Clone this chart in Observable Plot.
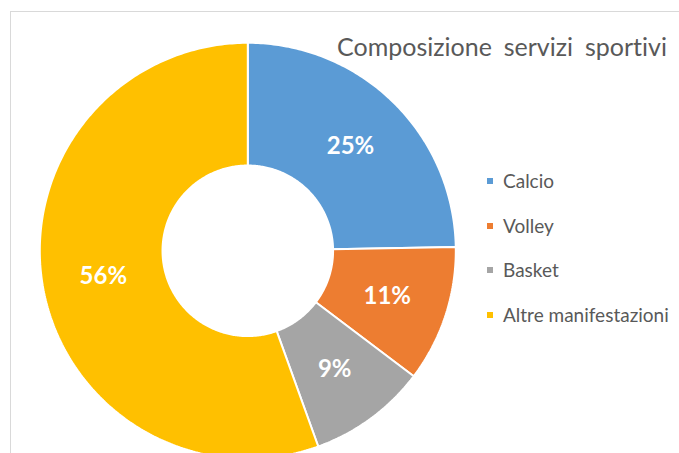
<!DOCTYPE html>
<html><head><meta charset="utf-8">
<script src="https://cdn.jsdelivr.net/npm/d3@7"></script>
<script src="https://cdn.jsdelivr.net/npm/@observablehq/plot@0.6"></script>
<style>
body{margin:0;background:#fff;}
#wrap{position:relative;width:679px;height:453px;overflow:hidden;font-family:Lato,"Open Sans",sans-serif;background:#fff;font-variant-ligatures:none;}
#border{position:absolute;left:10px;top:11px;width:800px;height:600px;border-left:1.5px solid #D9D9D9;border-top:1.5px solid #D9D9D9;}
#chart{position:absolute;left:0;top:0;}
#title{position:absolute;left:337px;top:34px;font-size:25px;color:#595959;white-space:nowrap;word-spacing:5.5px;line-height:1;}
.legtext{position:absolute;left:503px;font-size:19px;color:#595959;white-space:nowrap;line-height:1;}
.sw{position:absolute;left:487px;width:6px;height:6px;}
</style></head><body><div id="wrap"><div id="border"></div><div id="chart"></div></div>
<script>
const categories = ["Calcio", "Volley", "Basket", "Altre manifestazioni"];
const shares = [24.7, 10.6, 9.2, 55.5];
const labels = ["25%", "11%", "9%", "56%"];
const colors = ["#5B9BD5", "#ED7D31", "#A5A5A5", "#FFC000"];
const title = "Composizione servizi sportivi";

const cx = 247.3, cy = 250.3, R = 208, innerRatio = 0.41;

const pie = d3.pie().sort(null)(shares);
const rows = [];
const labelRows = [];
pie.forEach((p, i) => {
  const cat = categories[i];
  const span = p.endAngle - p.startAngle;
  const n = Math.max(2, Math.ceil(span * 80));
  const pts = [];
  for (let k = 0; k <= n; k++) {
    const a = p.startAngle + span * k / n;
    pts.push({cat, x: Math.sin(a), y: Math.cos(a)});
  }
  for (let k = n; k >= 0; k--) {
    const a = p.startAngle + span * k / n;
    pts.push({cat, x: innerRatio * Math.sin(a), y: innerRatio * Math.cos(a)});
  }
  pts.push({...pts[0]});
  rows.push(...pts);
  const m = (p.startAngle + p.endAngle) / 2, rm = (1 + innerRatio) / 2;
  labelRows.push({cat, label: labels[i], x: rm * Math.sin(m), y: rm * Math.cos(m)});
});

const chart = Plot.plot({
  width: 679, height: 453, margin: 0,
  x: {domain: [-1, 1], range: [cx - R, cx + R], axis: null},
  y: {domain: [-1, 1], range: [cy + R, cy - R], axis: null},
  color: {domain: categories, range: colors},
  style: {background: "transparent"},
  marks: [
    Plot.line(rows, {x: "x", y: "y", z: "cat", fill: "cat", stroke: "white", strokeWidth: 2, curve: "linear", strokeLinejoin: "miter"}),
    Plot.text(labelRows, {x: "x", y: "y", text: "label", fill: "white", fontSize: 24, fontWeight: "bold", fontFamily: "Lato, sans-serif"})
  ]
});
document.getElementById("chart").appendChild(chart);

const wrap = document.getElementById("wrap");
const t = document.createElement("div");
t.id = "title"; t.textContent = title; wrap.appendChild(t);
const legBaselines = [188.3, 233, 277.3, 321.7];
categories.forEach((c, i) => {
  const s = document.createElement("div");
  s.className = "sw"; s.style.background = colors[i];
  s.style.top = (legBaselines[i] - 10) + "px";
  wrap.appendChild(s);
  const tx = document.createElement("div");
  tx.className = "legtext";
  tx.textContent = c;
  tx.style.top = (legBaselines[i] - 0.887 * 19) + "px";
  wrap.appendChild(tx);
});
</script></body></html>
